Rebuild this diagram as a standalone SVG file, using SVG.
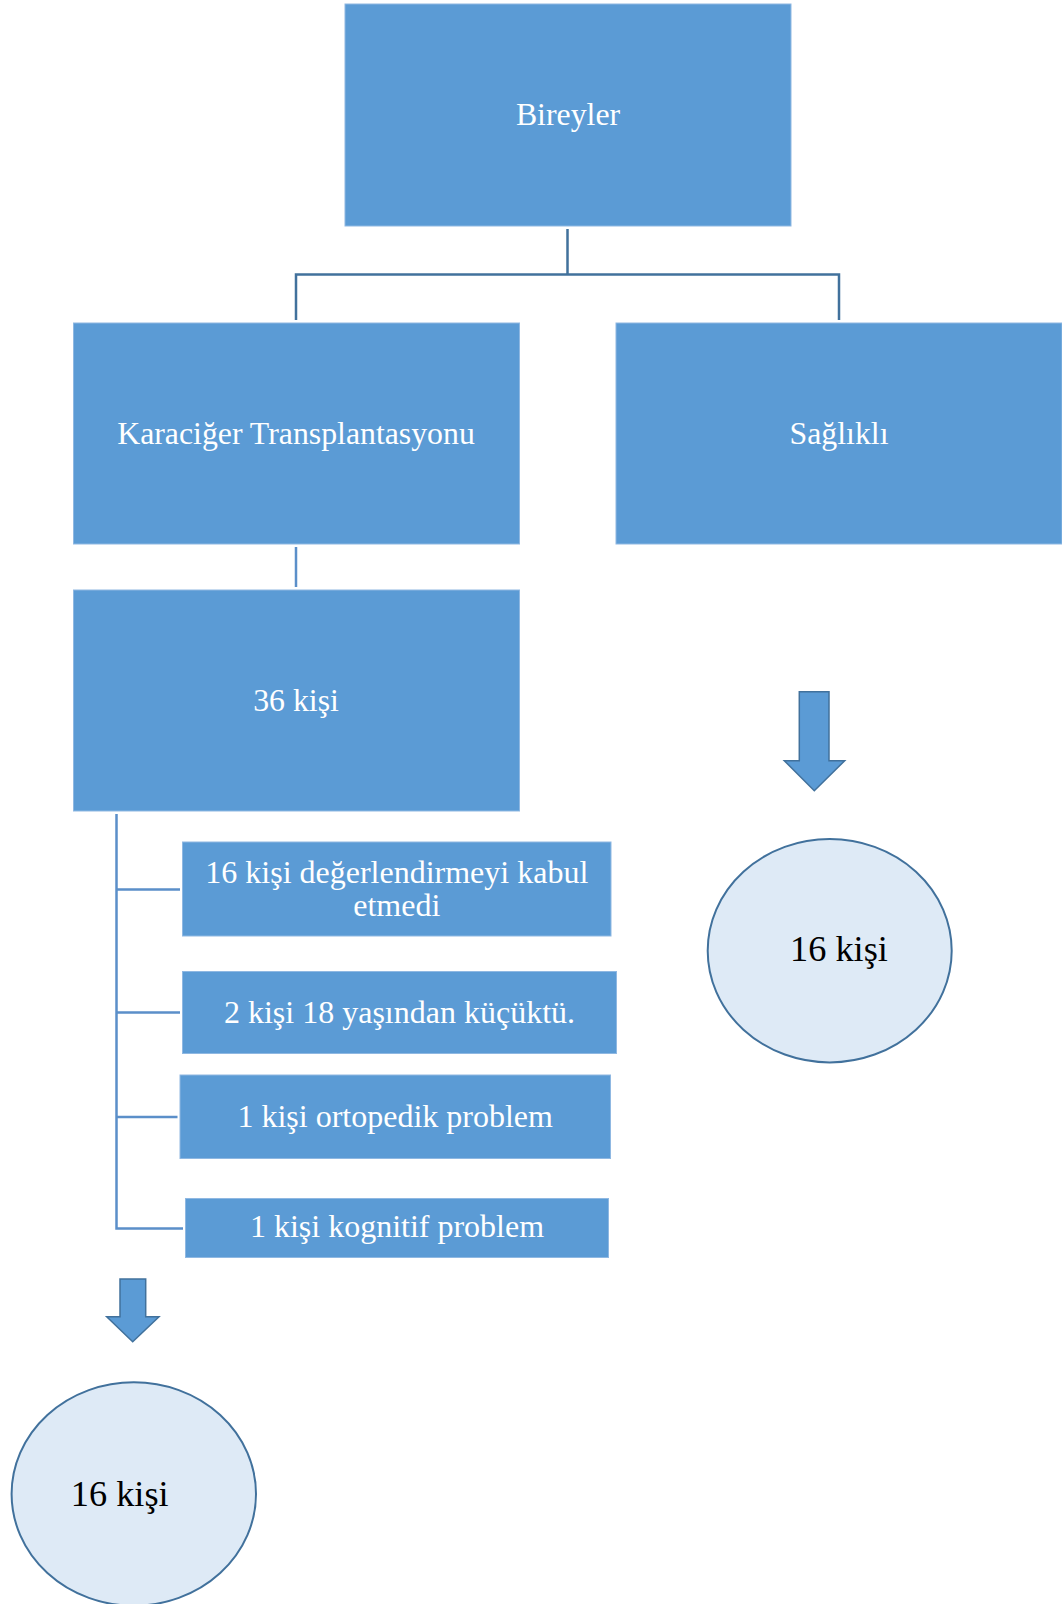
<svg xmlns="http://www.w3.org/2000/svg" width="1062" height="1604" viewBox="0 0 1062 1604">
<style>
.box{fill:#5B9BD5;stroke:#8FB8E2;stroke-width:1}
.wt{font-family:"Liberation Serif","Times New Roman",serif;fill:#FFFFFF;text-anchor:middle}
.big{font-size:31.8px}
.sm{font-size:32px}
.bk{font-family:"Liberation Serif","Times New Roman",serif;fill:#000000;text-anchor:middle;font-size:36.3px}
.conn{fill:none;stroke:#41719C;stroke-width:2.5}
.conn2{fill:none;stroke:#5B8FC9;stroke-width:2.5}
.circ{fill:#DEEAF6;stroke:#41719C;stroke-width:2}
.arr{fill:#5B9BD5;stroke:#41719C;stroke-width:1.5}
</style>
<rect width="1062" height="1604" fill="#FFFFFF"/>
<g id="connectors">
<path class="conn" d="M567.5,229 V274.5 M296,320 V274.5 H839 V320"/>
<path class="conn2" d="M296,547 V587"/>
<path class="conn2" d="M116.5,814 V1228.5 H183 M116.5,889.5 H180 M116.5,1012.5 H180 M116.5,1117 H177.5"/>
</g>
<g id="bireyler">
<rect class="box" x="345" y="4" width="446" height="222"/>
<text class="wt big" x="568" y="125">Bireyler</text>
</g>
<g id="karaciger">
<rect class="box" x="73.5" y="323" width="446" height="221"/>
<text class="wt big" x="296" y="444">Karaciğer Transplantasyonu</text>
</g>
<g id="saglikli">
<rect class="box" x="616" y="323" width="446" height="221"/>
<text class="wt big" x="839" y="444">Sağlıklı</text>
</g>
<g id="kisi36">
<rect class="box" x="73.5" y="590" width="446" height="221"/>
<text class="wt big" x="296" y="711">36 kişi</text>
</g>
<g id="ret1">
<rect class="box" x="182.5" y="842" width="428.5" height="94"/>
<text class="wt sm" x="396.8" y="882.5">16 kişi değerlendirmeyi kabul</text>
<text class="wt sm" x="396.8" y="915.5">etmedi</text>
</g>
<g id="ret2">
<rect class="box" x="182.5" y="971.5" width="434" height="82"/>
<text class="wt sm" x="399.5" y="1022.7">2 kişi 18 yaşından küçüktü.</text>
</g>
<g id="ret3">
<rect class="box" x="180" y="1075" width="430.5" height="83.5"/>
<text class="wt sm" x="395.2" y="1126.7">1 kişi ortopedik problem</text>
</g>
<g id="ret4">
<rect class="box" x="185.5" y="1198.5" width="423" height="59"/>
<text class="wt sm" x="397" y="1237.3">1 kişi kognitif problem</text>
</g>
<g id="arrow-right">
<polygon class="arr" points="799.3,691.7 829,691.7 829,760.7 844.7,760.7 814.3,790.7 784.3,760.7 799.3,760.7"/>
</g>
<g id="healthy16">
<ellipse class="circ" cx="829.7" cy="950.7" rx="122" ry="111.7"/>
<text class="bk" x="839" y="961">16 kişi</text>
</g>
<g id="arrow-left">
<polygon class="arr" points="120,1279 145.7,1279 145.7,1316.7 159,1316.7 132.7,1341.7 106.7,1316.7 120,1316.7"/>
</g>
<g id="patient16">
<ellipse class="circ" cx="133.8" cy="1494" rx="122.2" ry="111.7"/>
<text class="bk" x="119.7" y="1506">16 kişi</text>
</g>
</svg>
